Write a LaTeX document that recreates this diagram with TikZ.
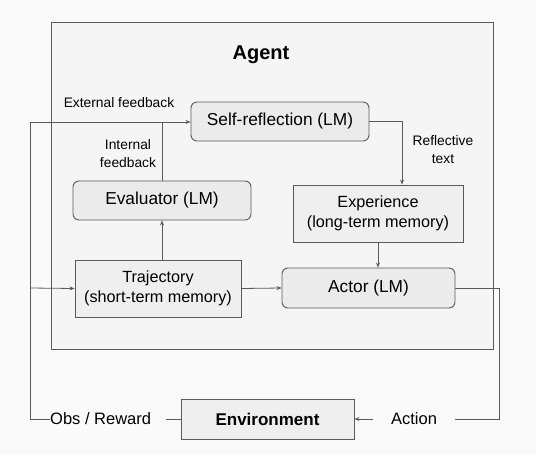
\documentclass[tikz,border=0pt]{standalone}
\usepackage{fontspec}
\setmainfont{Liberation Sans}
\usetikzlibrary{arrows.meta,positioning}
\definecolor{bgc}{HTML}{FAFAFA}
\definecolor{agentc}{HTML}{F5F5F5}
\definecolor{boxc}{HTML}{EBEBEB}
\definecolor{boxd}{HTML}{EFEFEF}
\definecolor{linec}{HTML}{5A5A5A}
\tikzset{
  base/.style={draw=linec, line width=0.9pt, inner sep=0pt, align=center, text=black},
  lmbox/.style={base, fill=boxc, rounded corners=6pt, font=\fontsize{17.3}{20}\selectfont},
  membox/.style={base, fill=boxd, font=\fontsize{16.2}{20}\selectfont},
  lbl/.style={inner sep=0pt, align=center, font=\fontsize{13.8}{18}\selectfont},
  biglbl/.style={inner sep=0pt, font=\fontsize{16.5}{20}\selectfont},
  conn/.style={draw=linec, line width=0.8pt},
  arr/.style={conn, -{Stealth[length=5pt,width=4pt]}}
}
\begin{document}
\begin{tikzpicture}[x=1pt,y=-1pt]
\useasboundingbox (0,0) rectangle (536,455);
\fill[bgc] (0,0) rectangle (536,455);
\node[base, fill=agentc, minimum width=442, minimum height=327] (agentbox) at (272,185.5) {};
\node[inner sep=0pt, font=\fontsize{20}{24}\selectfont\bfseries] (agenttitle) at (261,55) {Agent};
\node[lmbox, minimum width=178, minimum height=39] (selfref) at (280,121.5) {Self-reflection (LM)};
\node[lmbox, minimum width=178, minimum height=39] (evaluator) at (162,200.5) {Evaluator (LM)};
\node[membox, minimum width=170, minimum height=57] (experience) at (378,213.5) {Experience\\(long-term memory)};
\node[membox, minimum width=166, minimum height=57] (trajectory) at (158,288.5) {Trajectory\\(short-term memory)};
\node[lmbox, minimum width=173, minimum height=40] (actor) at (368.5,288) {Actor (LM)};
\node[base, fill=boxd, minimum width=173, minimum height=40, font=\fontsize{17}{20}\selectfont\bfseries] (environment) at (267.5,419) {Environment};
\node[biglbl, anchor=west] (obs) at (50,419) {Obs / Reward};
\node[biglbl] (action) at (414,419) {Action};
\node[lbl] (extfb) at (119,103) {External feedback};
\node[lbl] (intfb) at (128,154) {Internal\\feedback};
\node[lbl] (refltext) at (443,150) {Reflective\\text};
\coordinate (ltop) at (30,122);
\coordinate (lbot) at (30,419);
\coordinate (lmid) at (30,288);
\coordinate (rtop) at (499,288);
\coordinate (rbot) at (499,419);
% loop from environment back to agent
\draw[conn] (environment.west) -- ([xshift=15pt]obs.east);
\draw[arr] (obs.west) -- (lbot) -- (ltop) -- (selfref.west |- ltop);
\draw[arr] (lmid) -- (trajectory.west);
\draw[conn] (evaluator.north) -- (evaluator.north |- ltop);
\draw[arr] (trajectory.north -| evaluator.south) -- (evaluator.south);
\draw[arr] (trajectory.east) -- (actor.west);
\draw[arr] (selfref.east) -| ([xshift=24pt]experience.north);
\draw[arr] (experience.south) -- (experience.south |- actor.north);
\draw[conn] (actor.east) -- (rtop) -- (rbot) -- ([xshift=18pt]action.east);
\draw[arr] ([xshift=-18pt]action.west) -- (environment.east);
\end{tikzpicture}
\end{document}
